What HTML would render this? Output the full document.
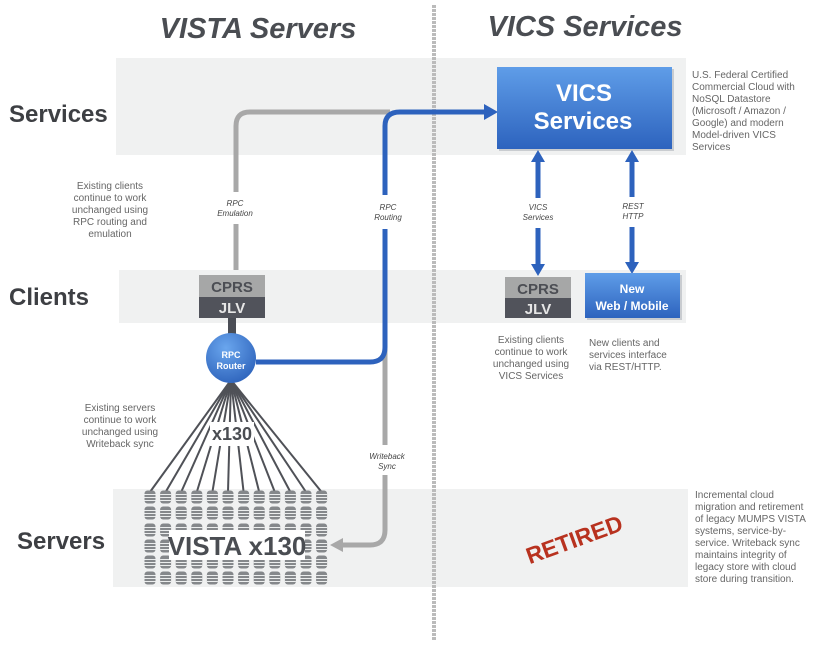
<!DOCTYPE html>
<html><head><meta charset="utf-8"><style>
body{margin:0;background:#fff;}
svg text{font-family:"Liberation Sans",sans-serif;}
</style></head><body>
<svg width="818" height="641" viewBox="0 0 818 641" xmlns="http://www.w3.org/2000/svg">
<defs>
<linearGradient id="bl" x1="0" y1="0" x2="0" y2="1"><stop offset="0" stop-color="#5f9de8"/><stop offset="1" stop-color="#2d63be"/></linearGradient>
<radialGradient id="rg" cx="0.4" cy="0.3" r="0.8"><stop offset="0" stop-color="#6aa6ee"/><stop offset="1" stop-color="#2a5fb8"/></radialGradient>
<g id="db"><rect x="-5.5" y="-6.5" width="11" height="13" rx="3" fill="#85888b"/><path d="M-5.5 -2.5h11M-5.5 0.5h11M-5.5 3.5h11" stroke="#eceeee" stroke-width="1"/></g>
</defs>
<rect x="116" y="58" width="570" height="97" fill="#f0f1f1"/>
<rect x="119" y="270" width="567" height="53" fill="#f0f1f1"/>
<rect x="113" y="489" width="575" height="98" fill="#f0f1f1"/>
<line x1="434" y1="5" x2="434" y2="641" stroke="#bbbbbb" stroke-width="4" stroke-dasharray="3 1"/>
<text x="258" y="38" font-size="29" font-weight="bold" font-style="italic" fill="#4a4d52" text-anchor="middle">VISTA Servers</text>
<text x="585" y="36" font-size="29" font-weight="bold" font-style="italic" fill="#4a4d52" text-anchor="middle">VICS Services</text>
<text x="9" y="122" font-size="24" font-weight="bold" fill="#3d3f43">Services</text>
<text x="9" y="305" font-size="24" font-weight="bold" fill="#3d3f43">Clients</text>
<text x="17" y="549" font-size="24" font-weight="bold" fill="#3d3f43">Servers</text>
<path d="M236 270 V126 Q236 112 250 112 H390" fill="none" stroke="#a8a8a8" stroke-width="5"/>
<path d="M385 180 V530 Q385 545 370 545 H340" fill="none" stroke="#a8a8a8" stroke-width="5"/>
<polygon points="330,545 343,538 343,552" fill="#a8a8a8"/>
<path d="M256 362 H370 Q385 362 385 347 V126 Q385 112 400 112 H487" fill="none" stroke="#2d62bd" stroke-width="5"/>
<polygon points="498,112 484,104 484,120" fill="#2d62bd"/>
<rect x="210" y="192" width="52" height="32" fill="#fff"/>
<text x="235" y="206" font-size="8" font-style="italic" fill="#444" text-anchor="middle">RPC</text>
<text x="235" y="216" font-size="8" font-style="italic" fill="#444" text-anchor="middle">Emulation</text>
<rect x="365" y="195" width="42" height="34" fill="#fff"/>
<text x="388" y="210" font-size="8" font-style="italic" fill="#444" text-anchor="middle">RPC</text>
<text x="388" y="220" font-size="8" font-style="italic" fill="#444" text-anchor="middle">Routing</text>
<rect x="363" y="445" width="46" height="30" fill="#fff"/>
<text x="387" y="459" font-size="8" font-style="italic" fill="#444" text-anchor="middle">Writeback</text>
<text x="387" y="469" font-size="8" font-style="italic" fill="#444" text-anchor="middle">Sync</text>
<rect x="228" y="318" width="8" height="20" fill="#4a4d55"/>
<rect x="199" y="275" width="66" height="22" fill="#a6a7a7"/>
<rect x="199" y="297" width="66" height="21" fill="#51535b"/>
<text x="232" y="292" font-size="15" font-weight="bold" fill="#4c4e54" text-anchor="middle">CPRS</text>
<text x="232" y="313" font-size="15" font-weight="bold" fill="#e6e6e6" text-anchor="middle">JLV</text>
<g stroke="#4f5157" stroke-width="2">
<line x1="231" y1="380" x2="150" y2="492"/><line x1="231" y1="380" x2="165.6" y2="492"/><line x1="231" y1="380" x2="181.2" y2="492"/><line x1="231" y1="380" x2="196.8" y2="492"/><line x1="231" y1="380" x2="212.4" y2="492"/><line x1="231" y1="380" x2="228" y2="492"/><line x1="231" y1="380" x2="243.6" y2="492"/><line x1="231" y1="380" x2="259.2" y2="492"/><line x1="231" y1="380" x2="274.8" y2="492"/><line x1="231" y1="380" x2="290.4" y2="492"/><line x1="231" y1="380" x2="306" y2="492"/><line x1="231" y1="380" x2="321.6" y2="492"/>
</g>
<rect x="210" y="422" width="44" height="24" fill="#fff"/>
<text x="232" y="440" font-size="18" font-weight="bold" fill="#4a4d52" text-anchor="middle">x130</text>
<circle cx="231" cy="358" r="25" fill="url(#rg)"/>
<text x="231" y="358" font-size="9" font-weight="bold" fill="#fff" text-anchor="middle">RPC</text>
<text x="231" y="369" font-size="9" font-weight="bold" fill="#fff" text-anchor="middle">Router</text>
<g>
<use href="#db" x="150" y="497"/><use href="#db" x="165.6" y="497"/><use href="#db" x="181.2" y="497"/><use href="#db" x="196.8" y="497"/><use href="#db" x="212.4" y="497"/><use href="#db" x="228" y="497"/><use href="#db" x="243.6" y="497"/><use href="#db" x="259.2" y="497"/><use href="#db" x="274.8" y="497"/><use href="#db" x="290.4" y="497"/><use href="#db" x="306" y="497"/><use href="#db" x="321.6" y="497"/>
<use href="#db" x="150" y="513"/><use href="#db" x="165.6" y="513"/><use href="#db" x="181.2" y="513"/><use href="#db" x="196.8" y="513"/><use href="#db" x="212.4" y="513"/><use href="#db" x="228" y="513"/><use href="#db" x="243.6" y="513"/><use href="#db" x="259.2" y="513"/><use href="#db" x="274.8" y="513"/><use href="#db" x="290.4" y="513"/><use href="#db" x="306" y="513"/><use href="#db" x="321.6" y="513"/>
<use href="#db" x="150" y="530"/><use href="#db" x="165.6" y="530"/><use href="#db" x="181.2" y="530"/><use href="#db" x="196.8" y="530"/><use href="#db" x="212.4" y="530"/><use href="#db" x="228" y="530"/><use href="#db" x="243.6" y="530"/><use href="#db" x="259.2" y="530"/><use href="#db" x="274.8" y="530"/><use href="#db" x="290.4" y="530"/><use href="#db" x="306" y="530"/><use href="#db" x="321.6" y="530"/>
<use href="#db" x="150" y="546"/><use href="#db" x="165.6" y="546"/><use href="#db" x="181.2" y="546"/><use href="#db" x="196.8" y="546"/><use href="#db" x="212.4" y="546"/><use href="#db" x="228" y="546"/><use href="#db" x="243.6" y="546"/><use href="#db" x="259.2" y="546"/><use href="#db" x="274.8" y="546"/><use href="#db" x="290.4" y="546"/><use href="#db" x="306" y="546"/><use href="#db" x="321.6" y="546"/>
<use href="#db" x="150" y="562"/><use href="#db" x="165.6" y="562"/><use href="#db" x="181.2" y="562"/><use href="#db" x="196.8" y="562"/><use href="#db" x="212.4" y="562"/><use href="#db" x="228" y="562"/><use href="#db" x="243.6" y="562"/><use href="#db" x="259.2" y="562"/><use href="#db" x="274.8" y="562"/><use href="#db" x="290.4" y="562"/><use href="#db" x="306" y="562"/><use href="#db" x="321.6" y="562"/>
<use href="#db" x="150" y="578"/><use href="#db" x="165.6" y="578"/><use href="#db" x="181.2" y="578"/><use href="#db" x="196.8" y="578"/><use href="#db" x="212.4" y="578"/><use href="#db" x="228" y="578"/><use href="#db" x="243.6" y="578"/><use href="#db" x="259.2" y="578"/><use href="#db" x="274.8" y="578"/><use href="#db" x="290.4" y="578"/><use href="#db" x="306" y="578"/><use href="#db" x="321.6" y="578"/>
</g>
<rect x="169" y="530" width="136" height="30" fill="#fff"/>
<text x="237" y="555" font-size="26" font-weight="bold" fill="#4a4d52" text-anchor="middle">VISTA x130</text>
<g font-size="10" fill="#666" text-anchor="middle">
<text x="110" y="189">Existing clients</text><text x="110" y="201">continue to work</text><text x="110" y="213">unchanged using</text><text x="110" y="225">RPC routing and</text><text x="110" y="237">emulation</text>
<text x="120" y="411">Existing servers</text><text x="120" y="423">continue to work</text><text x="120" y="435">unchanged using</text><text x="120" y="447">Writeback sync</text>
</g>
<rect x="499" y="69" width="175" height="82" fill="#c9ccd0"/>
<rect x="497" y="67" width="175" height="82" fill="url(#bl)"/>
<text x="584" y="101" font-size="24" font-weight="bold" fill="#fff" text-anchor="middle">VICS</text>
<text x="583" y="129" font-size="24" font-weight="bold" fill="#fff" text-anchor="middle">Services</text>
<g fill="#2d62bd">
<rect x="535.5" y="160" width="5" height="38"/><polygon points="538,150 531,162 545,162"/>
<rect x="535.5" y="228" width="5" height="38"/><polygon points="538,276 531,264 545,264"/>
<rect x="629.5" y="160" width="5" height="37"/><polygon points="632,150 625,162 639,162"/>
<rect x="629.5" y="227" width="5" height="38"/><polygon points="632,274 625,262 639,262"/>
</g>
<text x="538" y="210" font-size="8" font-style="italic" fill="#444" text-anchor="middle">VICS</text>
<text x="538" y="220" font-size="8" font-style="italic" fill="#444" text-anchor="middle">Services</text>
<text x="633" y="209" font-size="8" font-style="italic" fill="#444" text-anchor="middle">REST</text>
<text x="633" y="219" font-size="8" font-style="italic" fill="#444" text-anchor="middle">HTTP</text>
<rect x="505" y="277" width="66" height="21" fill="#a6a7a7"/>
<rect x="505" y="298" width="66" height="20" fill="#51535b"/>
<text x="538" y="294" font-size="15" font-weight="bold" fill="#4c4e54" text-anchor="middle">CPRS</text>
<text x="538" y="314" font-size="15" font-weight="bold" fill="#e6e6e6" text-anchor="middle">JLV</text>
<rect x="587" y="275" width="95" height="45" fill="#c9ccd0"/>
<rect x="585" y="273" width="95" height="45" fill="url(#bl)"/>
<text x="632" y="293" font-size="12" font-weight="bold" fill="#fff" text-anchor="middle">New</text>
<text x="632" y="310" font-size="12" font-weight="bold" fill="#fff" text-anchor="middle">Web / Mobile</text>
<g font-size="10" fill="#666">
<text x="531" y="343" text-anchor="middle">Existing clients</text><text x="531" y="355" text-anchor="middle">continue to work</text><text x="531" y="367" text-anchor="middle">unchanged using</text><text x="531" y="379" text-anchor="middle">VICS Services</text>
<text x="589" y="346">New clients and</text><text x="589" y="358">services interface</text><text x="589" y="370">via REST/HTTP.</text>
<text x="692" y="78">U.S. Federal Certified</text><text x="692" y="90">Commercial Cloud with</text><text x="692" y="102">NoSQL Datastore</text><text x="692" y="114">(Microsoft / Amazon /</text><text x="692" y="126">Google) and  modern</text><text x="692" y="138">Model-driven VICS</text><text x="692" y="150">Services</text>
<text x="695" y="498">Incremental cloud</text><text x="695" y="510">migration and retirement</text><text x="695" y="522">of legacy MUMPS VISTA</text><text x="695" y="534">systems, service-by-</text><text x="695" y="546">service. Writeback sync</text><text x="695" y="558">maintains integrity of</text><text x="695" y="570">legacy store with cloud</text><text x="695" y="582">store during transition.</text>
</g>
<text x="0" y="0" transform="translate(577,547) rotate(-20)" font-size="23" font-weight="bold" fill="#b8321f" text-anchor="middle">RETIRED</text>
</svg>
</body></html>
